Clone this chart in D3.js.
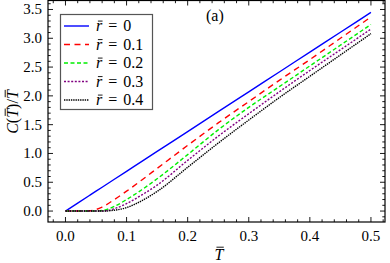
<!DOCTYPE html>
<html><head><meta charset="utf-8">
<script src="https://cdn.jsdelivr.net/npm/d3@7"></script>
<style>
html,body{margin:0;padding:0;background:#fff;}
svg{display:block;font-family:"Liberation Serif","DejaVu Serif",serif;}
</style></head>
<body>
<svg id="c" width="390" height="263"></svg>
<script>
// Data
const T = [0, 0.02, 0.04, 0.06, 0.08, 0.1, 0.125, 0.15, 0.2, 0.25, 0.3, 0.35, 0.4, 0.45, 0.5];
const r0  = [0, 0.138, 0.276, 0.414, 0.552, 0.69, 0.8625, 1.035, 1.38, 1.725, 2.07, 2.415, 2.76, 3.105, 3.45];
const r01 = [0, 0, 0.005, 0.07, 0.2, 0.345, 0.54, 0.74, 1.14, 1.53, 1.9, 2.27, 2.63, 3.0, 3.37];
const r02 = [0, 0, 0, 0.01, 0.08, 0.2, 0.37, 0.56, 0.98, 1.41, 1.8, 2.16, 2.52, 2.88, 3.24];
const r03 = [0, 0, 0, 0, 0.04, 0.13, 0.28, 0.45, 0.88, 1.3, 1.69, 2.07, 2.44, 2.8, 3.16];
const r04 = [0, 0, 0, 0, 0.015, 0.06, 0.18, 0.34, 0.76, 1.18, 1.58, 1.97, 2.34, 2.71, 3.08];
const seriesLabels = ["0", "0.1", "0.2", "0.3", "0.4"];
const xTicks = [0.0, 0.1, 0.2, 0.3, 0.4, 0.5];
const yTicks = [0.0, 0.5, 1.0, 1.5, 2.0, 2.5, 3.0, 3.5];

const series = [r0, r01, r02, r03, r04];
const colors = ["#0000ff", "#ff0000", "#00ee00", "#800080", "#000000"];
const dashes = [null, "6,4.5", "4,2.5", "2,1.6", "1.4,0.9"];
const widths = [1.4, 1.4, 1.4, 1.4, 1.4];

const svg = d3.select("#c");
const L = 48, R = 385, Tp = 0.5, B = 222;
const x = d3.scaleLinear().domain([-0.0286, 0.523]).range([L, R]);
const y = d3.scaleLinear().domain([-0.19, 3.656]).range([B, Tp]);

// curves
const line = d3.line().x((d,i)=>x(T[i])).y(d=>y(d)).curve(d3.curveMonotoneX);
svg.append("clipPath").attr("id","pc").append("rect")
  .attr("x",L).attr("y",Tp).attr("width",R-L).attr("height",B-Tp);
const g = svg.append("g").attr("clip-path","url(#pc)");
series.forEach((s,k)=>{
  g.append("path").attr("d", line(s)).attr("fill","none")
   .attr("stroke", colors[k]).attr("stroke-width", widths[k])
   .attr("stroke-dasharray", dashes[k]);
});

// frame
svg.append("rect").attr("x",L).attr("y",Tp).attr("width",R-L).attr("height",B-Tp)
  .attr("fill","none").attr("stroke","#000").attr("stroke-width",1.2);

// ticks
const xMinor = d3.range(-0.02, 0.521, 0.02).filter(v=>Math.abs(Math.round(v*10)/10 - v) > 1e-6);
const yMinor = d3.range(-0.1, 3.61, 0.1).filter(v=>Math.abs(Math.round(v*2)/2 - v) > 1e-6);
const tk = svg.append("g").attr("stroke","#000").attr("stroke-width",0.9);
xTicks.forEach(v=>{
  tk.append("line").attr("x1",x(v)).attr("x2",x(v)).attr("y1",B).attr("y2",B-5);
  tk.append("line").attr("x1",x(v)).attr("x2",x(v)).attr("y1",Tp).attr("y2",Tp+5);
});
xMinor.forEach(v=>{
  tk.append("line").attr("x1",x(v)).attr("x2",x(v)).attr("y1",B).attr("y2",B-2.7);
  tk.append("line").attr("x1",x(v)).attr("x2",x(v)).attr("y1",Tp).attr("y2",Tp+2.7);
});
yTicks.forEach(v=>{
  tk.append("line").attr("x1",L).attr("x2",L+5).attr("y1",y(v)).attr("y2",y(v));
  tk.append("line").attr("x1",R).attr("x2",R-5).attr("y1",y(v)).attr("y2",y(v));
});
yMinor.forEach(v=>{
  tk.append("line").attr("x1",L).attr("x2",L+2.7).attr("y1",y(v)).attr("y2",y(v));
  tk.append("line").attr("x1",R).attr("x2",R-2.7).attr("y1",y(v)).attr("y2",y(v));
});

// tick labels
const fs = 15;
xTicks.forEach(v=>{
  svg.append("text").attr("x",x(v)).attr("y",B+19).attr("text-anchor","middle")
    .attr("font-size",fs).text(v.toFixed(1));
});
yTicks.forEach(v=>{
  svg.append("text").attr("x",L-6).attr("y",y(v)+5).attr("text-anchor","end")
    .attr("font-size",fs).text(v.toFixed(1));
});

// math text with manual overbars over chosen segments
function mathText(parent, parts, xPos, yPos, size, anchor){
  const t = parent.append("text").attr("x",xPos).attr("y",yPos).attr("font-size",size)
    .attr("text-anchor",anchor||"start");
  let idx = 0; const bars = [];
  parts.forEach(p=>{
    const ts = t.append("tspan").text(p.t);
    if(p.i) ts.attr("font-style","italic");
    if(p.dx) ts.attr("dx",p.dx);
    if(p.o) bars.push({start: idx, n: p.t.length, h: p.o});
    idx += p.t.length;
  });
  const node = t.node();
  bars.forEach(b=>{
    const a = node.getExtentOfChar(b.start);
    const e = node.getExtentOfChar(b.start + b.n - 1);
    const x0 = a.x + 0.12*size, x1 = e.x + e.width + 0.02*size;
    const yy = yPos - b.h*size;
    parent.append("line").attr("x1",x0).attr("x2",x1).attr("y1",yy).attr("y2",yy)
      .attr("stroke","#000").attr("stroke-width",0.9);
  });
  return t;
}

// legend
const lg = svg.append("g");
lg.append("rect").attr("x",60.5).attr("y",14.5).attr("width",92).attr("height",95)
  .attr("fill","#fff").attr("stroke","#555").attr("stroke-width",1.2);
const rowY = [26, 44.5, 63, 81.5, 100];
series.forEach((s,k)=>{
  lg.append("line").attr("x1",64).attr("x2",89).attr("y1",rowY[k]).attr("y2",rowY[k])
    .attr("stroke",colors[k]).attr("stroke-width",widths[k]).attr("stroke-dasharray",dashes[k]);
  mathText(lg, [{t:"r", i:true, o:0.62},{t:"=", dx:6},{t:seriesLabels[k], dx:6}], 96, rowY[k]+5, 16);
});

// panel label
svg.append("text").attr("x",206).attr("y",21).attr("font-size",16).text("(a)");

// axis labels
mathText(svg, [{t:"T", i:true, o:0.8}], 219, 260, 16, "middle");
const yl = svg.append("g").attr("transform","translate(18,112) rotate(-90)");
mathText(yl, [{t:"C", i:true},{t:"("},{t:"T", i:true, o:0.8},{t:")/"},{t:"T", i:true, o:0.8}], 0, 0, 16, "middle");
</script>
</body></html>
